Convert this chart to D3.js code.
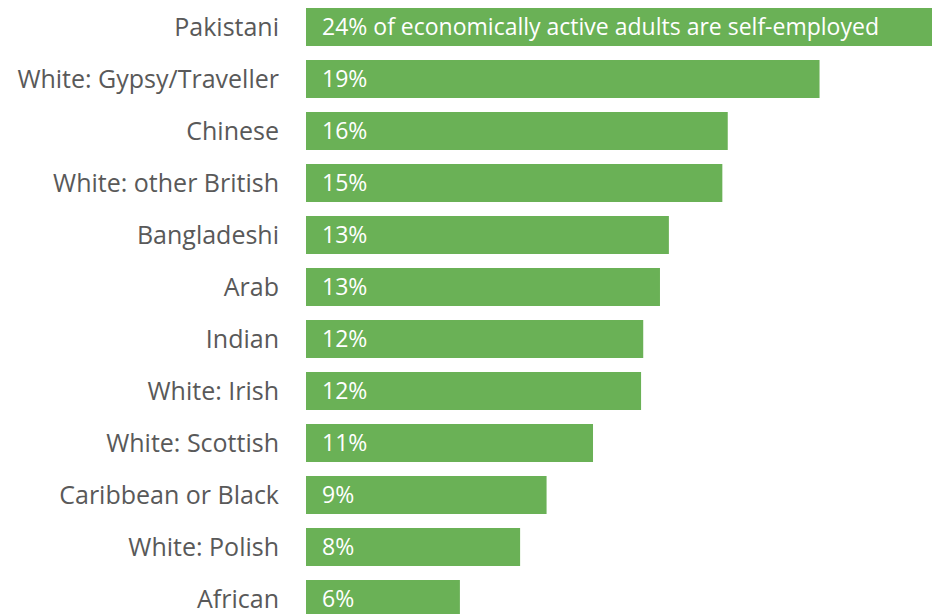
<!DOCTYPE html>
<html>
<head>
<meta charset="utf-8">
<script src="https://cdn.jsdelivr.net/npm/d3@7"></script>
<style>
  html, body { margin: 0; padding: 0; background: #fff; }
  svg { display: block; }
</style>
</head>
<body>
<svg id="chart" width="932" height="614"></svg>
<script>
const categories = ["Pakistani", "White: Gypsy/Traveller", "Chinese", "White: other British", "Bangladeshi", "Arab", "Indian", "White: Irish", "White: Scottish", "Caribbean or Black", "White: Polish", "African"];
const values = [24.0, 19.02, 15.62, 15.42, 13.44, 13.11, 12.49, 12.41, 10.63, 8.91, 7.93, 5.70];
const valueLabels = ["24% of economically active adults are self-employed", "19%", "16%", "15%", "13%", "13%", "12%", "12%", "11%", "9%", "8%", "6%"];

const svg = d3.select("#chart");
const x0 = 306, pxPerUnit = 27;
const x = d3.scaleLinear().domain([0, 24]).range([x0, x0 + 24 * pxPerUnit]);
const y = d3.scaleBand().domain(categories).range([8, 618]).paddingInner(14 / 52).paddingOuter(0);

const font = "'Open Sans', 'DejaVu Sans', sans-serif";

const g = svg.append("g");
const rows = g.selectAll("g.row").data(categories.map((c, i) => ({c, v: values[i], l: valueLabels[i]})))
  .enter().append("g").attr("class", "row");

rows.append("rect")
  .attr("x", x(0))
  .attr("y", d => y(d.c))
  .attr("width", d => x(d.v) - x(0))
  .attr("height", y.bandwidth())
  .attr("fill", "#6ab156");

rows.append("text")
  .attr("x", 279)
  .attr("y", d => y(d.c) + y.bandwidth() / 2 + 9)
  .attr("text-anchor", "end")
  .attr("font-family", font)
  .attr("font-size", 25)
  .attr("fill", "#595959")
  .text(d => d.c);

rows.append("text")
  .attr("x", x(0) + 16)
  .attr("y", d => y(d.c) + y.bandwidth() / 2 + 8)
  .attr("text-anchor", "start")
  .attr("font-family", font)
  .attr("font-size", 23)
  .attr("fill", "#ffffff")
  .text(d => d.l);
</script>
</body>
</html>
